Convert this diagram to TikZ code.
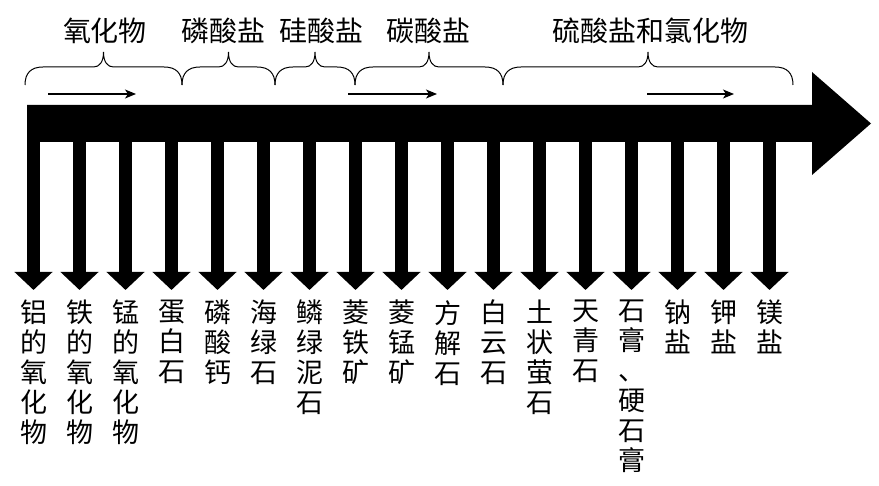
\documentclass[tikz,border=0pt]{standalone}
\usepackage{fontspec}
\setmainfont{Noto Sans CJK SC}
\usetikzlibrary{arrows.meta}
\begin{document}
\begin{tikzpicture}[x=1pt,y=-1pt,
  lbl/.style={font=\fontsize{27}{30}\selectfont, align=center, inner sep=0pt, anchor=north},
  toplbl/.style={font=\fontsize{28}{30}\selectfont, inner sep=0pt},
  bracepath/.style={line width=1pt},
  downarrow/.style={line width=13pt, -{Triangle[width=37pt,length=18pt]}},
  flowarrow/.style={line width=1.5pt, -{Stealth[length=11pt,width=9pt,inset=3pt]}},
]
\useasboundingbox (0,0) rectangle (879,486);

% main arrow
\fill (27,105) -- (812,105) -- (812,72) -- (871,123.5) -- (812,175) -- (812,142) -- (27,142) -- cycle;

% top labels
\node[toplbl] (t1) at (105,31) {氧化物};
\node[toplbl] (t2) at (223,31) {磷酸盐};
\node[toplbl] (t3) at (321,31) {硅酸盐};
\node[toplbl] (t4) at (428,31) {碳酸盐};
\node[toplbl] (t5) at (650,31) {硫酸盐和氯化物};

% braces
\foreach \a/\b in {25/182, 182/275, 275/355, 355/503, 503/793} {
  \pgfmathsetmacro\m{(\a+\b)/2}
  \draw[bracepath] (\a,85) .. controls (\a,73) and ({\a+6},67) .. ({\a+18},67)
    -- ({\m-10},67) .. controls ({\m-4},67) and (\m,62) .. (\m,52)
    .. controls (\m,62) and ({\m+4},67) .. ({\m+10},67)
    -- ({\b-18},67) .. controls ({\b-6},67) and (\b,73) .. (\b,85);
}

% small flow arrows
\coordinate (f1s) at (48,94);  \coordinate (f1e) at (136,94);
\coordinate (f2s) at (348,94); \coordinate (f2e) at (437,94);
\coordinate (f3s) at (647,94); \coordinate (f3e) at (734,94);
\draw[flowarrow] (f1s) -- (f1e);
\draw[flowarrow] (f2s) -- (f2e);
\draw[flowarrow] (f3s) -- (f3e);

% down arrows and labels
\foreach \i/\txt in {1/{铝\\的\\氧\\化\\物}, 2/{铁\\的\\氧\\化\\物}, 3/{锰\\的\\氧\\化\\物},
  4/{蛋\\白\\石}, 5/{磷\\酸\\钙}, 6/{海\\绿\\石}, 7/{鳞\\绿\\泥\\石}, 8/{菱\\铁\\矿},
  9/{菱\\锰\\矿}, 10/{方\\解\\石}, 11/{白\\云\\石}, 12/{土\\状\\萤\\石}, 13/{天\\青\\石},
  14/{石\\膏\\、\\硬\\石\\膏}, 15/{钠\\盐}, 16/{钾\\盐}, 17/{镁\\盐}} {
  \pgfmathsetmacro\xx{33.5+46*(\i-1)}
  \coordinate (b\i) at (\xx,140);
  \node[lbl] (l\i) at (\xx,300) {\txt};
  \draw[downarrow] (b\i) -- ([yshift=10pt]l\i.north);
}
\end{tikzpicture}
\end{document}
